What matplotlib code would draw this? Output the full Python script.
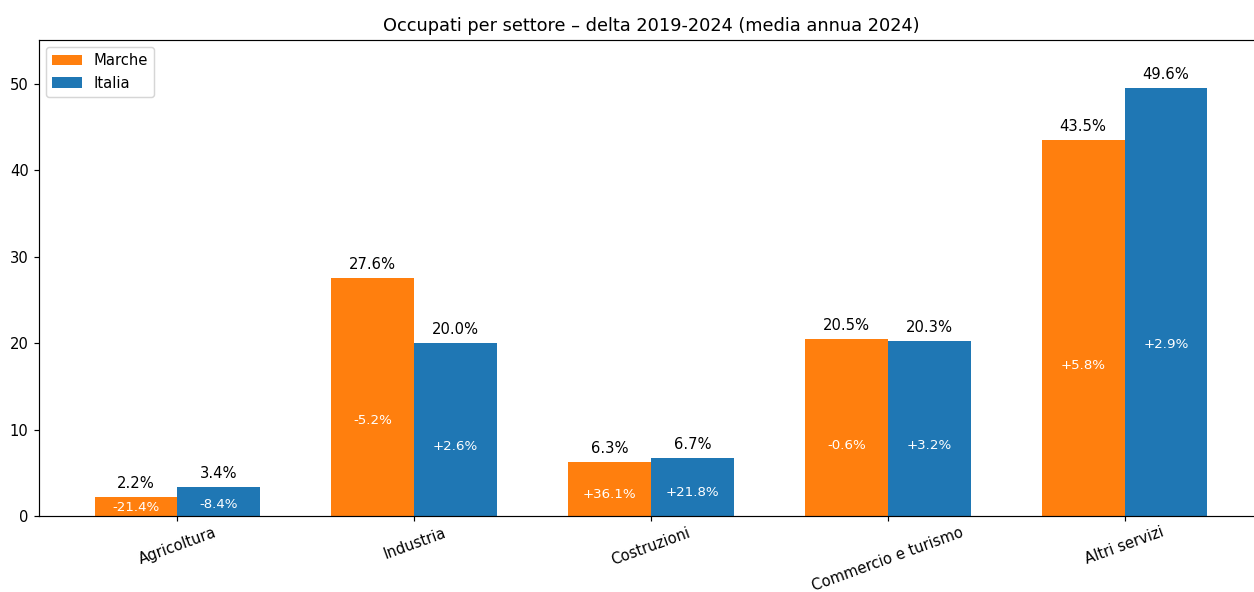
import numpy as np
import matplotlib
matplotlib.use('Agg')
import matplotlib.pyplot as plt

settori = ['Agricoltura', 'Industria', 'Costruzioni', 'Commercio e turismo', 'Altri servizi']
quota_marche = [2.2, 27.6, 6.3, 20.5, 43.5]
quota_italia = [3.4, 20.0, 6.7, 20.3, 49.6]
delta_marche = ['-21.4%', '-5.2%', '+36.1%', '-0.6%', '+5.8%']
delta_italia = ['-8.4%', '+2.6%', '+21.8%', '+3.2%', '+2.9%']

x = np.arange(len(settori))
w = 0.35

W, H, DPI = 1254, 592, 106.5
fig = plt.figure(figsize=(W / DPI, H / DPI), dpi=DPI)
# the original picture is cropped on the right, so the axes run past the edge
ax = fig.add_axes([39 / W, (H - 516) / H, 1224 / W, 476 / H])

b1 = ax.bar(x - w/2, quota_marche, w, label='Marche', color='#ff7f0e')
b2 = ax.bar(x + w/2, quota_italia, w, label='Italia', color='#1f77b4')

ax.bar_label(b1, labels=[f'{v:.1f}%' for v in quota_marche], padding=4)
ax.bar_label(b2, labels=[f'{v:.1f}%' for v in quota_italia], padding=4)

# delta labels inside the bars, at 40% of the height
for bars, deltas in [(b1, delta_marche), (b2, delta_italia)]:
    for r, d in zip(bars, deltas):
        h = r.get_height()
        ax.text(r.get_x() + r.get_width() / 2, max(h * 0.4, 1.0), d,
                ha='center', va='center', color='white', fontsize=9)

ax.set_xticks(x)
ax.set_xticklabels(settori, rotation=20)
ax.tick_params(axis='x', pad=2.5)
ax.set_ylim(0, 55.1)
ax.set_title('Occupati per settore – delta 2019-2024 (media annua 2024)')
ax.legend(loc='upper left')

fig.savefig('out.png', dpi=DPI)
